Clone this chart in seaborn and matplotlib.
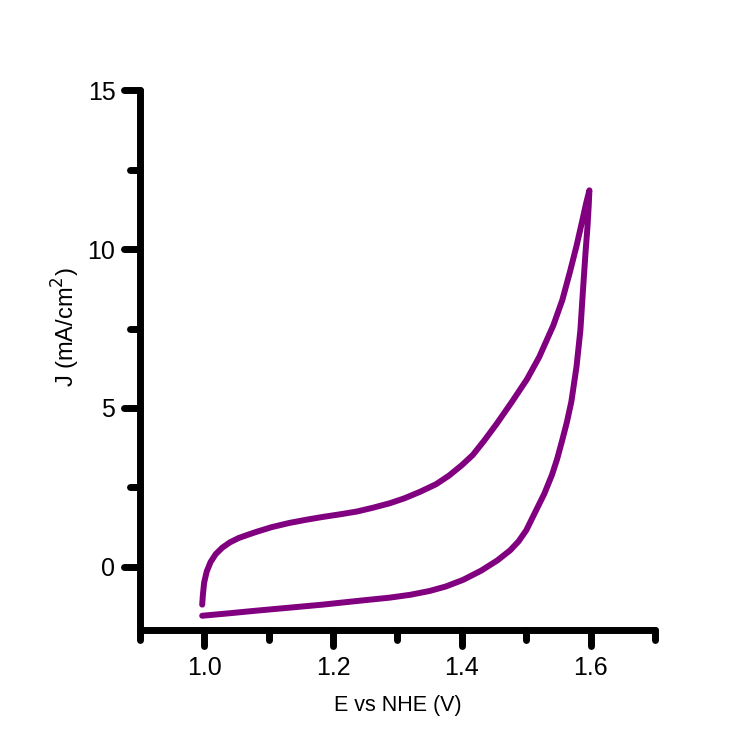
import matplotlib
matplotlib.use("Agg")
import matplotlib.pyplot as plt
import matplotlib.lines as mlines
from matplotlib.markers import MarkerStyle
import pandas as pd
import seaborn as sns
from matplotlib.ticker import MultipleLocator, FormatStrFormatter

# Anodic (forward) sweep
e_forward = [0.997, 0.998, 1.000, 1.004, 1.010, 1.018, 1.028, 1.040, 1.054,
             1.068, 1.081, 1.105, 1.132, 1.158, 1.184, 1.210, 1.237, 1.262,
             1.288, 1.310, 1.335, 1.360, 1.380, 1.400, 1.417, 1.435, 1.454,
             1.478, 1.501, 1.520, 1.542, 1.556, 1.568, 1.578, 1.587, 1.593,
             1.598]
j_forward = [-1.19, -0.90, -0.50, -0.15, 0.15, 0.40, 0.60, 0.77, 0.91,
             1.01, 1.10, 1.25, 1.38, 1.48, 1.57, 1.65, 1.74, 1.86,
             2.00, 2.15, 2.36, 2.60, 2.87, 3.20, 3.52, 3.98, 4.50,
             5.20, 5.90, 6.60, 7.60, 8.40, 9.30, 10.10, 10.90, 11.45,
             11.85]

# Cathodic (reverse) sweep
e_reverse = [1.598, 1.597, 1.595, 1.592, 1.588, 1.584, 1.578, 1.570, 1.563,
             1.556, 1.548, 1.540, 1.528, 1.517, 1.500, 1.488, 1.475, 1.455,
             1.430, 1.402, 1.375, 1.350, 1.320, 1.288, 1.235, 1.184, 1.130,
             1.081, 1.040, 0.997]
j_reverse = [11.85, 11.40, 10.70, 9.90, 8.70, 7.45, 6.30, 5.20, 4.55,
             4.00, 3.40, 2.90, 2.30, 1.85, 1.15, 0.80, 0.52, 0.20,
             -0.12, -0.41, -0.62, -0.76, -0.88, -0.97, -1.08, -1.19, -1.29,
             -1.38, -1.46, -1.54]

x_major = [1.0, 1.2, 1.4, 1.6]
y_major = [0, 5, 10, 15]

sns.set_theme(style="ticks")
plt.rcParams["font.family"] = ["Liberation Sans", "DejaVu Sans"]

df = pd.DataFrame({
    "E": e_forward + e_reverse,
    "J": j_forward + j_reverse,
})

fig = plt.figure(figsize=(7.47, 7.46), dpi=100)
fig.patch.set_facecolor("white")
ax = fig.add_axes([0.187, 0.155, 0.69, 0.724])
ax.set_facecolor("white")

sns.lineplot(data=df, x="E", y="J", sort=False, estimator=None,
             color="#800080", linewidth=4.3, ax=ax,
             solid_capstyle="round", solid_joinstyle="round")

ax.set_xlim(0.9, 1.7)
ax.set_ylim(-2, 15)
ax.set_xticks(x_major)
ax.set_yticks(y_major)
ax.xaxis.set_major_formatter(FormatStrFormatter("%.1f"))
ax.xaxis.set_minor_locator(MultipleLocator(0.1))
ax.yaxis.set_minor_locator(MultipleLocator(2.5))

for side in ("top", "right"):
    ax.spines[side].set_visible(False)
for side in ("left", "bottom"):
    ax.spines[side].set_linewidth(5)
    ax.spines[side].set_color("black")
    ax.spines[side].set_capstyle("round")

ax.tick_params(axis="x", which="major", direction="out", length=11.5,
               width=5, color="black", labelsize=18, pad=7, labelcolor="black")
ax.tick_params(axis="y", which="major", direction="out", length=11.5,
               width=5, color="black", labelsize=18, pad=6, labelcolor="black")
ax.tick_params(axis="both", which="minor", direction="out", length=7,
               width=5, color="black")

# rounded tick ends
for axis, mk in ((ax.xaxis, mlines.TICKDOWN), (ax.yaxis, mlines.TICKLEFT)):
    for tick in axis.get_major_ticks() + axis.get_minor_ticks():
        tick.tick1line.set_marker(MarkerStyle(mk, capstyle="round"))

ax.set_xlabel("E vs NHE (V)", fontsize=15.5, color="black")
ax.set_ylabel("J (mA/cm$^{2}$)", fontsize=17, color="black")
ax.xaxis.set_label_coords(0.5, -0.119)
ax.yaxis.set_label_coords(-0.111, 0.561)

fig.savefig("out.png", dpi=100, facecolor="white")
